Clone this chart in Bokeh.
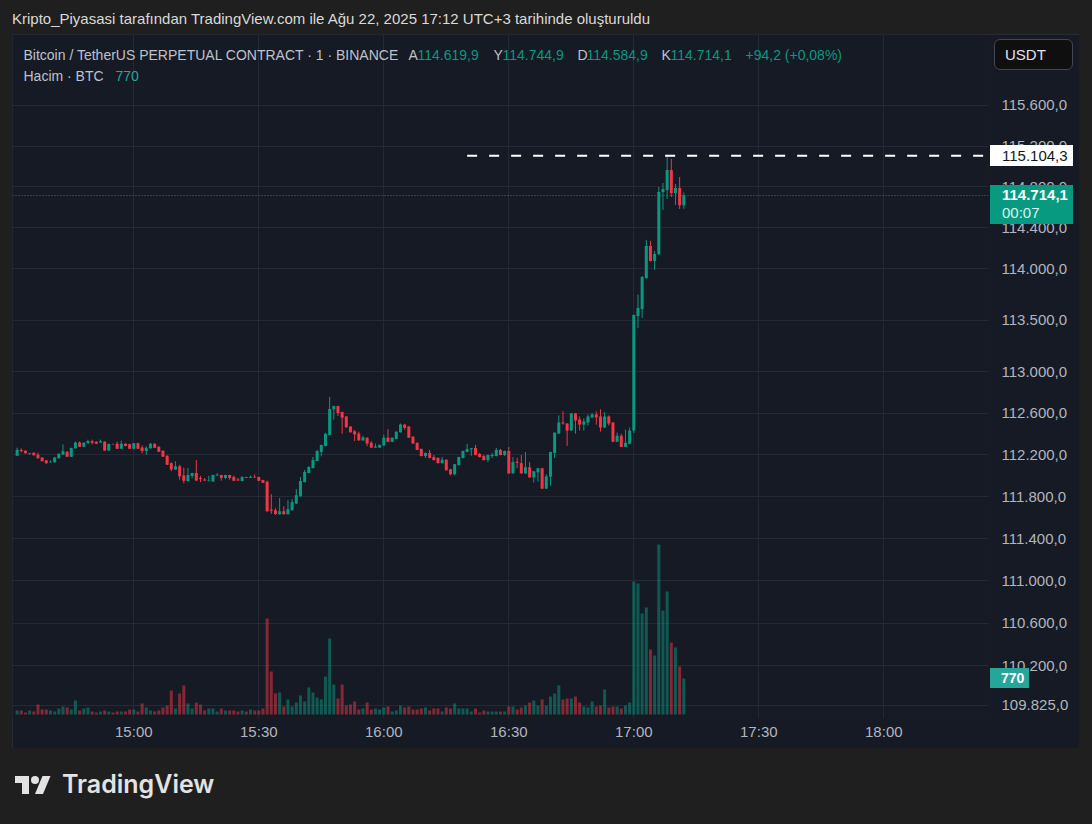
import math
from bokeh.plotting import figure
from bokeh.models import (Range1d, LinearScale, FixedTicker, CustomJSTickFormatter,
                          Span, Label, Div, Spacer, ColumnDataSource)
from bokeh.layouts import column, row
from bokeh.embed import file_html
from bokeh.resources import INLINE

# ---------------- data (1-minute candles, BTCUSDT.P, Binance) ----------------
start_time = "14:32"
opens = [112194, 112248, 112241, 112210, 112222, 112203, 112175, 112149, 112130, 112130,
         112168, 112203, 112232, 112184, 112264, 112321, 112280, 112312, 112331, 112328,
         112321, 112328, 112242, 112305, 112309, 112261, 112309, 112302, 112261, 112312,
         112273, 112238, 112264, 112309, 112280, 112241, 112194, 112120, 112060, 112092,
         112003, 111950, 111998, 112027, 111979, 111966, 111950, 111947, 112003, 112008,
         111979, 112008, 111989, 111966, 111950, 111989, 111982, 111992, 111989, 111960,
         111944, 111678, 111672, 111634, 111662, 111634, 111672, 111736, 111806, 111941,
         112027, 112075, 112142, 112229, 112286, 112392, 112638, 112670, 112613, 112570,
         112473, 112427, 112405, 112340, 112366, 112317, 112271, 112271, 112291, 112366,
         112327, 112353, 112418, 112492, 112473, 112376, 112317, 112258, 112190, 112220,
         112180, 112171, 112122, 112155, 112063, 112015, 112103, 112171, 112229, 112255,
         112268, 112210, 112190, 112151, 112190, 112190, 112249, 112200, 112239, 112024,
         112135, 112122, 112024, 112083, 111985, 112034, 112073, 111878, 111992, 112220,
         112405, 112512, 112502, 112434, 112600, 112541, 112492, 112512, 112560, 112590,
         112570, 112463, 112570, 112512, 112327, 112385, 112278, 112307, 112434, 113540,
         113608, 113909, 114221, 114075, 114143, 114749, 114768, 114965, 114739, 114788,
         114619.9]
highs = [112270, 112264, 112244, 112219, 112225, 112222, 112178, 112152, 112149, 112178,
         112216, 112302, 112235, 112270, 112328, 112331, 112321, 112347, 112347, 112331,
         112347, 112331, 112309, 112309, 112328, 112337, 112312, 112309, 112315, 112318,
         112292, 112283, 112315, 112312, 112283, 112244, 112197, 112130, 112140, 112107,
         112079, 112075, 112030, 112152, 112000, 111979, 112000, 112011, 112027, 112011,
         112011, 112011, 112003, 111982, 111998, 111992, 112003, 112014, 111992, 111963,
         111954, 111826, 111691, 111787, 111710, 111768, 111778, 111874, 111989, 112056,
         112094, 112181, 112248, 112299, 112414, 112757, 112674, 112674, 112616, 112573,
         112476, 112440, 112424, 112385, 112369, 112333, 112310, 112300, 112395, 112447,
         112369, 112427, 112502, 112499, 112476, 112379, 112320, 112262, 112223, 112249,
         112200, 112180, 112180, 112158, 112067, 112115, 112184, 112242, 112307, 112268,
         112298, 112220, 112200, 112203, 112220, 112268, 112258, 112242, 112278, 112180,
         112174, 112200, 112229, 112132, 112047, 112077, 112077, 112015, 112232, 112418,
         112580, 112619, 112505, 112603, 112603, 112570, 112551, 112590, 112603, 112619,
         112639, 112610, 112580, 112515, 112415, 112405, 112444, 112463, 113555, 113748,
         113929, 114281, 114271, 114172, 114798, 114837, 115104.3, 115074, 114827, 114896,
         114744.9]
lows = [112190, 112225, 112213, 112203, 112194, 112165, 112137, 112117, 112127, 112127,
        112165, 112200, 112181, 112181, 112260, 112277, 112277, 112309, 112302, 112305,
        112318, 112238, 112238, 112299, 112257, 112257, 112283, 112257, 112257, 112257,
        112216, 112203, 112261, 112267, 112229, 112181, 112104, 112044, 112056, 111964,
        111929, 111944, 111976, 111950, 111941, 111954, 111947, 111944, 112000, 111954,
        111970, 111963, 111950, 111954, 111947, 111979, 111979, 111982, 111950, 111931,
        111658, 111637, 111627, 111630, 111630, 111630, 111669, 111730, 111800, 111938,
        112024, 112072, 112139, 112187, 112283, 112389, 112539, 112574, 112405, 112460,
        112415, 112333, 112337, 112337, 112284, 112268, 112268, 112268, 112288, 112323,
        112323, 112350, 112415, 112444, 112363, 112307, 112246, 112187, 112171, 112168,
        112148, 112119, 112119, 112051, 112005, 112005, 112100, 112168, 112226, 112193,
        112197, 112177, 112148, 112132, 112171, 112187, 112197, 112190, 112020, 112020,
        112077, 112020, 112020, 111982, 111937, 111946, 111875, 111875, 111907, 112171,
        112402, 112492, 112288, 112431, 112405, 112434, 112434, 112483, 112557, 112492,
        112424, 112460, 112483, 112323, 112323, 112275, 112275, 112304, 112411, 113422,
        113521, 113900, 114070, 113987, 114133, 114573, 114680, 114700, 114622, 114583,
        114584.9]
closes = [112251, 112238, 112216, 112216, 112197, 112168, 112140, 112120, 112136, 112175,
          112213, 112235, 112184, 112267, 112321, 112280, 112318, 112334, 112318, 112309,
          112331, 112242, 112305, 112302, 112261, 112309, 112286, 112261, 112312, 112261,
          112238, 112270, 112309, 112270, 112232, 112184, 112107, 112060, 112092, 111996,
          111954, 112008, 112027, 111957, 111970, 111957, 111957, 112008, 112011, 111979,
          112008, 111979, 111954, 111957, 111989, 111982, 111992, 111985, 111954, 111934,
          111662, 111666, 111637, 111662, 111634, 111682, 111749, 111816, 111950, 112037,
          112085, 112152, 112238, 112296, 112402, 112642, 112670, 112603, 112558, 112466,
          112418, 112398, 112340, 112369, 112310, 112271, 112281, 112297, 112366, 112327,
          112366, 112424, 112492, 112460, 112366, 112310, 112249, 112190, 112220, 112171,
          112151, 112122, 112155, 112054, 112015, 112112, 112180, 112239, 112258, 112265,
          112200, 112180, 112151, 112200, 112200, 112249, 112200, 112239, 112024, 112132,
          112125, 112024, 112083, 111985, 112044, 112073, 111878, 111995, 112229, 112414,
          112512, 112502, 112434, 112600, 112531, 112492, 112522, 112570, 112590, 112560,
          112463, 112570, 112502, 112327, 112385, 112278, 112317, 112434, 113550, 113618,
          113919, 114221, 114075, 114143, 114749, 114778, 114965, 114739, 114788, 114619.9,
          114714.1]
volumes = [86, 86, 43, 86, 64, 214, 107, 107, 86, 64,
           128, 171, 150, 107, 300, 86, 128, 150, 64, 43,
           64, 86, 64, 43, 64, 64, 64, 107, 107, 64,
           235, 150, 86, 64, 86, 150, 193, 513, 128, 449,
           620, 235, 128, 257, 214, 86, 128, 128, 64, 128,
           86, 86, 86, 64, 86, 64, 107, 86, 86, 128,
           2053, 920, 449, 471, 171, 321, 171, 257, 406, 278,
           578, 471, 364, 321, 813, 1626, 642, 342, 642, 193,
           214, 278, 107, 128, 257, 107, 128, 107, 150, 171,
           64, 86, 193, 150, 171, 107, 107, 128, 150, 86,
           128, 128, 64, 150, 128, 235, 128, 128, 128, 64,
           128, 43, 86, 64, 64, 64, 64, 64, 171, 171,
           107, 150, 193, 257, 300, 193, 321, 193, 385, 449,
           620, 321, 342, 342, 385, 257, 171, 150, 278, 171,
           193, 535, 150, 171, 171, 128, 193, 257, 2845, 2802,
           2160, 2289, 1390, 1262, 3636, 2225, 2631, 1540, 1433, 1027,
           770]
time_ticks = ["15:00", "15:30", "16:00", "16:30", "17:00", "17:30", "18:00"]
price_ticks = [109825, 110200, 110600, 111000, 111400, 111800, 112200, 112600,
               113000, 113500, 114000, 114400, 114800, 115200, 115600]
high_line_price = 115104.3
high_line_start = "16:20"
countdown = "00:07"
currency = "USDT"
symbol_text = "Bitcoin / TetherUS PERPETUAL CONTRACT · 1 · BINANCE"
volume_text = "Hacim · BTC"
title_text = ("Kripto_Piyasasi tarafından TradingView.com ile Ağu 22, 2025 17:12 UTC+3 "
              "tarihinde oluşturuldu")

# ---------------- helpers ----------------
def to_min(s):
    h, m = s.split(":")
    return int(h) * 60 + int(m)

def fmt_price(v):
    s = f"{v:,.1f}"
    return s.replace(",", " ").replace(".", ",").replace(" ", ".")

t0 = to_min(start_time)
times = [t0 + i for i in range(len(closes))]
UP, DOWN = "#089981", "#f23645"
colors = [UP if c >= o else DOWN for o, c in zip(opens, closes)]

# ---------------- geometry (page pixels) ----------------
BOX_L, BOX_T, BOX_R, BOX_B = 12, 34, 1079, 748       # chart box
FR_R, FR_B = 988, 718                                 # pane right / bottom
X0 = 900 + (BOX_L - 133.3) / 4.1667                   # minutes at pane left
X1 = 900 + (FR_R - 133.3) / 4.1667                    # minutes at pane right
Y_TOP, Y_BOT = 116303.0, 109703.0                     # log price range of pane
VOL_PER_PX = 21.39
vol_lo = -(FR_B - 714) * VOL_PER_PX
vol_hi = vol_lo + (FR_B - BOX_T) * VOL_PER_PX

def x_at(px):
    return X0 + (px - BOX_L) / (FR_R - BOX_L) * (X1 - X0)

def y_at(py):
    f = (py - BOX_T) / (FR_B - BOX_T)
    return math.exp(math.log(Y_TOP) - f * (math.log(Y_TOP) - math.log(Y_BOT)))

FONT = "Liberation Sans, Arial, sans-serif"
GREY = "#b2b5be"

p = figure(width=BOX_R - BOX_L, height=BOX_B - BOX_T, output_backend="svg",
           toolbar_location=None, y_axis_type="log", y_axis_location="right",
           x_range=Range1d(X0, X1), y_range=Range1d(Y_BOT, Y_TOP),
           min_border_left=0, min_border_top=0,
           min_border_right=BOX_R - FR_R, min_border_bottom=BOX_B - FR_B)
p.title.visible = False
p.background_fill_color = "#161a25"
p.border_fill_color = "#161a25"
p.outline_line_color = None
p.styles = {"outline": "1px solid #303238", "outline-offset": "-1px"}

p.extra_y_ranges = {"vol": Range1d(vol_lo, vol_hi)}
p.extra_y_scales = {"vol": LinearScale()}

# axes
p.xaxis.ticker = FixedTicker(ticks=[to_min(t) for t in time_ticks])
p.xaxis.formatter = CustomJSTickFormatter(code="""
const t = Math.round(tick); const h = Math.floor(t / 60); const m = t % 60;
return (h < 10 ? '0' : '') + h + ':' + (m < 10 ? '0' : '') + m;""")
p.yaxis.ticker = FixedTicker(ticks=price_ticks)
p.yaxis.formatter = CustomJSTickFormatter(code=r"""
const s = tick.toFixed(1); const parts = s.split('.');
return parts[0].replace(/\B(?=(\d{3})+(?!\d))/g, '.') + ',' + parts[1];""")
for ax in (p.xaxis[0], p.yaxis[0]):
    ax.axis_line_color = None
    ax.major_tick_line_color = None
    ax.minor_tick_line_color = None
    ax.major_tick_out = 0
    ax.major_tick_in = 0
    ax.minor_tick_out = 0
    ax.major_label_text_color = GREY
    ax.major_label_text_font = FONT
    ax.major_label_text_font_size = "15px"
p.xaxis.major_label_standoff = 4
p.yaxis.major_label_standoff = 13
p.xgrid.grid_line_color = "#252935"
p.ygrid.grid_line_color = "#252935"

# volume
src = ColumnDataSource(dict(t=times, o=opens, h=highs, l=lows, c=closes, v=volumes,
                            top=[max(o, c) for o, c in zip(opens, closes)],
                            bot=[min(o, c) for o, c in zip(opens, closes)],
                            color=colors))
p.vbar(x="t", width=0.72, top="v", bottom=0, fill_color="color", fill_alpha=0.5,
       line_color=None, y_range_name="vol", source=src)

# candles
p.segment(x0="t", x1="t", y0="l", y1="h", line_color="color", line_width=1, source=src)
p.vbar(x="t", width=0.72, top="top", bottom="bot", fill_color="color",
       line_color=None, source=src)

# last price dotted line and high dashed line
p.add_layout(Span(location=closes[-1], dimension="width", line_color=UP,
                  line_dash="1 2", line_width=1))
p.segment(x0=[to_min(high_line_start)], x1=[X1], y0=[high_line_price], y1=[high_line_price],
          line_color="white", line_width=2, line_dash="10 12")

def lab(text, px, py, color, size="14px", bold=False):
    p.add_layout(Label(x=x_at(px), y=y_at(py), text=text, text_color=color,
                       text_font=FONT, text_font_size=size,
                       text_font_style="bold" if bold else "normal",
                       text_baseline="middle", text_align="left"))

# header legend
o, h, l, c = opens[-1], highs[-1], lows[-1], closes[-1]
chg = closes[-1] - closes[-2]
pct = chg / closes[-2] * 100
chg_txt = ("+" if chg >= 0 else "") + f"{chg:.1f}".replace(".", ",") + \
          " (" + ("+" if pct >= 0 else "") + f"{pct:.2f}".replace(".", ",") + "%)"
LEG = "#bfc2ca"
lab(symbol_text, 23, 54, LEG)
for letter, val, lx in (("A", o, 408), ("Y", h, 493), ("D", l, 577), ("K", c, 661)):
    lab(letter, lx, 54, LEG)
    lab(fmt_price(val), lx + 9, 54, UP)
lab(chg_txt, 745, 54, UP)
lab(volume_text, 23, 75, LEG)
lab(str(volumes[-1]), 115, 75, "#26a69a")

# ---------------- page layout ----------------
# boxes on the price scale (HTML overlay, positioned relative to the logo strip at page (8, 748))
OX, OY = 8, 748

def box(px, py, w, hgt, inner, extra=""):
    return (f'<div style="position:absolute;z-index:10;left:{px - OX}px;top:{py - OY}px;'
            f'width:{w}px;height:{hgt}px;box-sizing:border-box;white-space:nowrap;'
            f'font-family:Liberation Sans,Arial,sans-serif;{extra}">{inner}</div>')

scale_boxes = (
    box(994, 39, 79, 31, currency,
        "background:#0f0f0f;border:1px solid #434651;border-radius:6px;color:#e0e3eb;"
        "font-size:15px;line-height:29px;padding-left:10px;")
    + box(990, 145, 83, 21, fmt_price(high_line_price),
          "background:#ffffff;color:#131722;font-size:15px;line-height:21px;padding-left:12px;")
    + box(990, 185, 83, 39,
          f'<div style="font-weight:bold;line-height:18px;">{fmt_price(closes[-1])}</div>'
          f'<div style="line-height:18px;color:#dff3ee;">{countdown}</div>',
          f"background:{UP};color:#ffffff;font-size:15px;padding-left:12px;padding-top:1px;")
    + box(990, 668, 39, 20, str(volumes[-1]),
          "background:#26a69a;color:#ffffff;font-size:14px;font-weight:bold;"
          "line-height:20px;padding-left:11px;")
)

title_div = Div(text=f'<div style="font-family:Liberation Sans,Arial,sans-serif;font-size:15px;'
                     f'color:#d9d9d9;line-height:22px;padding-left:4px;white-space:nowrap;">'
                     f'{title_text}</div>',
                width=1076, height=26, margin=0)
logo_svg = ('<svg width="36" height="28" viewBox="0 0 36 28" '
            'style="position:absolute;left:7px;top:24px">'
            '<path fill="#e3e3e3" d="M14 22H7V11H0V4h14v18zM28 22h-8l7.5-18h8L28 22z"/>'
            '<circle fill="#e3e3e3" cx="20" cy="8" r="4"/></svg>')
logo_div = Div(text=f'<div style="position:relative;width:1076px;height:68px;">{logo_svg}'
                    f'<span style="position:absolute;left:54px;top:24px;font-family:Inter,'
                    f'Liberation Sans,sans-serif;font-weight:600;font-size:25px;line-height:25px;'
                    f'color:#e3e3e3;white-space:nowrap;">TradingView</span>{scale_boxes}</div>',
               width=1076, height=68, margin=0, styles={"overflow": "visible"})
layout = column(title_div, row(Spacer(width=BOX_L - 8, height=BOX_B - BOX_T), p), logo_div)

template = ("{% block preamble %}<style>html,body{background:#1f1f1f;overflow:hidden;}"
            "body{margin:8px;}</style>{% endblock %}"
            "{% block postamble %}<style>html,body{background:#1f1f1f;overflow:hidden;}"
            "body{margin:8px;}</style>{% endblock %}")
open("out.html", "w").write(file_html(layout, INLINE, template=template))
